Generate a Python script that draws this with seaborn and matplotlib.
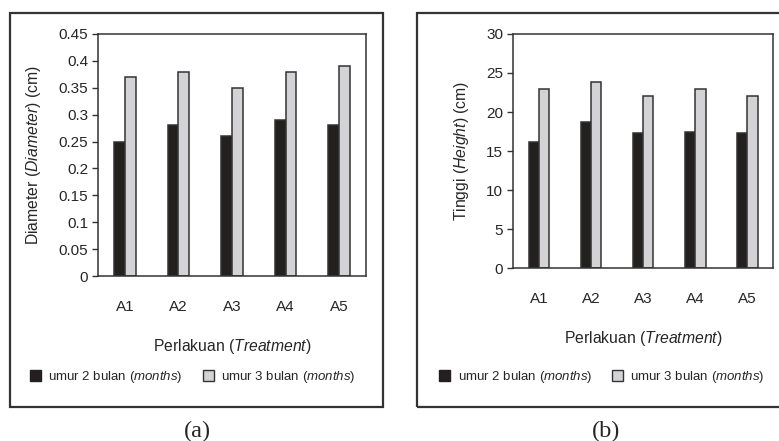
import pandas as pd
import matplotlib
matplotlib.use("Agg")
import matplotlib.pyplot as plt
from matplotlib.patches import Rectangle, Patch
import seaborn as sns

# data
perlakuan = ["A1", "A2", "A3", "A4", "A5"]
diameter_2 = [0.25, 0.28, 0.26, 0.29, 0.28]
diameter_3 = [0.37, 0.38, 0.35, 0.38, 0.39]
tinggi_2 = [16.2, 18.7, 17.3, 17.4, 17.3]
tinggi_3 = [23.0, 23.8, 22.0, 22.9, 22.1]
diameter_ticks = [0, 0.05, 0.1, 0.15, 0.2, 0.25, 0.3, 0.35, 0.4, 0.45]
tinggi_ticks = [0, 5, 10, 15, 20, 25, 30]

lbl_2 = r"umur 2 bulan ($\it{months}$)"
lbl_3 = r"umur 3 bulan ($\it{months}$)"

sns.set_theme(style="white")
plt.rcParams["font.family"] = ["Liberation Sans", "DejaVu Sans"]
plt.rcParams["mathtext.fontset"] = "custom"
plt.rcParams["mathtext.rm"] = "Liberation Sans"
plt.rcParams["mathtext.it"] = "Liberation Sans:italic"

hitam = "#231f20"
abu = "#d3d3d5"
garis = "#333333"


def long_df(v2, v3):
    return pd.DataFrame({
        "perlakuan": perlakuan * 2,
        "nilai": list(v2) + list(v3),
        "umur": [lbl_2] * len(v2) + [lbl_3] * len(v3),
    })


fig = plt.figure(figsize=(7.79, 4.41), dpi=100)

# outer frames
for x0, w in [(0.0128, 0.479), (0.535, 0.47)]:
    fig.patches.append(Rectangle((x0, 0.077), w, 0.893, transform=fig.transFigure,
                                 fill=False, edgecolor=garis, linewidth=1.6))

ax1 = fig.add_axes([0.1258, 0.374, 0.344, 0.549])
ax2 = fig.add_axes([0.6585, 0.392, 0.334, 0.531])

panels = [
    (ax1, long_df(diameter_2, diameter_3), diameter_ticks, r"Diameter ($\it{Diameter}$) (cm)", 0.0385, "(a)", 0.253),
    (ax2, long_df(tinggi_2, tinggi_3), tinggi_ticks, r"Tinggi ($\it{Height}$) (cm)", 0.5636, "(b)", 0.778),
]

for ax, df, ticks, ylab, leg_x, cap, cap_x in panels:
    sns.barplot(data=df, x="perlakuan", y="nilai", hue="umur", palette=[hitam, abu],
                width=0.4, edgecolor="#333333", linewidth=1.1, ax=ax)
    ax.set_ylim(ticks[0], ticks[-1])
    ax.set_yticks(ticks)
    ax.set_yticklabels([f"{t:g}" for t in ticks])
    ax.set_xlim(-0.5, 4.5)
    ax.tick_params(axis="y", length=4, width=1, color=garis, pad=3, labelsize=11, left=True)
    ax.tick_params(axis="x", length=0, pad=17, labelsize=11)
    ax.set_xlabel(r"Perlakuan ($\it{Treatment}$)", fontsize=11.3, labelpad=17)
    ax.set_ylabel(ylab, fontsize=11.3, labelpad=11)
    for s in ax.spines.values():
        s.set_visible(True)
        s.set_color(garis)
        s.set_linewidth(1.1)
    ax.get_legend().remove()
    handles = [Patch(facecolor=hitam, edgecolor=hitam), Patch(facecolor=abu, edgecolor="#333333")]
    fig.legend(handles, [lbl_2, lbl_3], loc="center left", bbox_to_anchor=(leg_x, 1 - 377 / 441),
               ncol=2, frameon=False, fontsize=9.5, handlelength=0.85, handleheight=0.85,
               handletextpad=0.55, columnspacing=1.5, borderpad=0, borderaxespad=0)
    fig.text(cap_x, 1 - 431 / 441, cap, ha="center", va="center", fontsize=17.5,
             family=["Liberation Serif", "DejaVu Serif"])

fig.savefig("out.png", dpi=100)
